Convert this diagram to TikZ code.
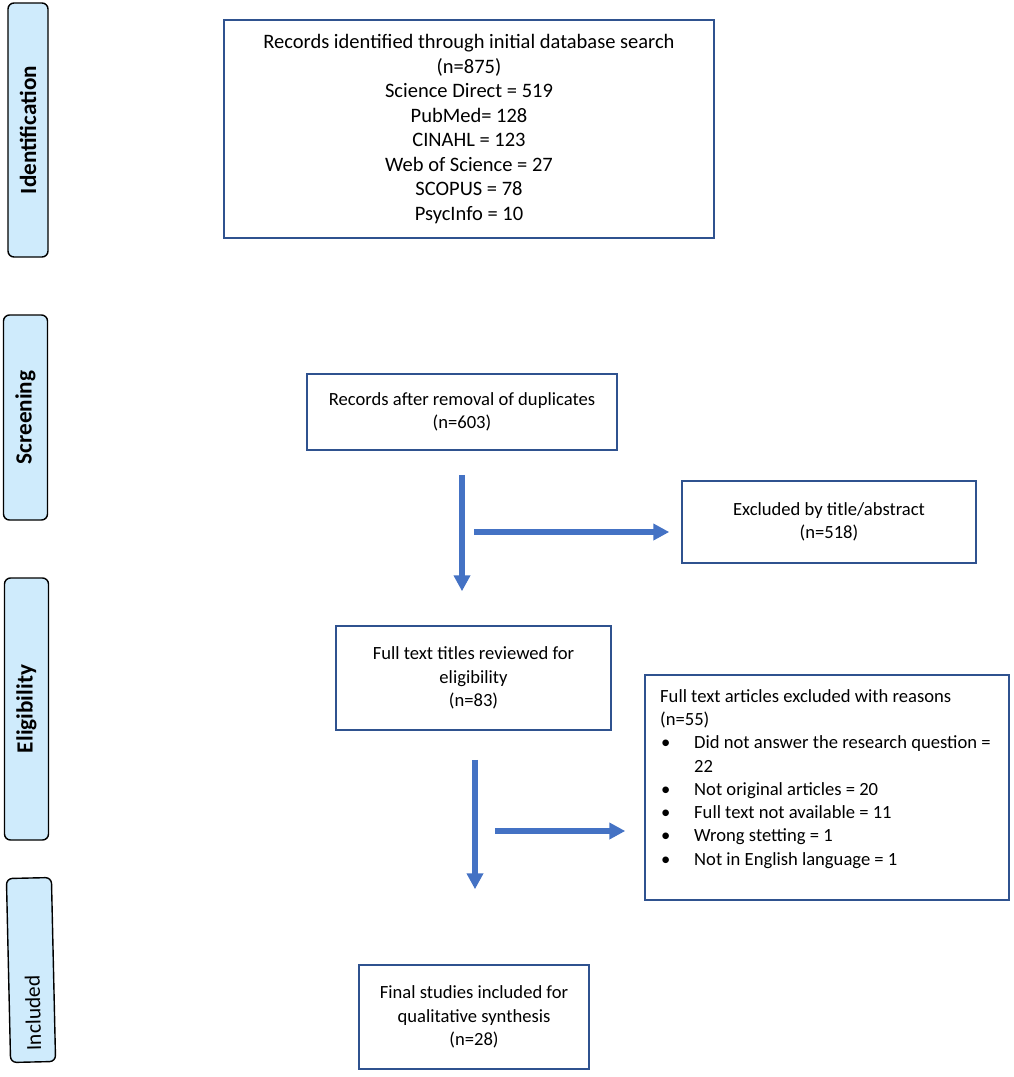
\documentclass[tikz,border=0pt]{standalone}
\usepackage{fontspec}
\setmainfont{Carlito}
\usetikzlibrary{arrows.meta,calc}
\definecolor{boxline}{RGB}{47,82,143}
\definecolor{arrowblue}{RGB}{68,114,196}
\definecolor{sidefill}{RGB}{207,235,252}
\begin{document}
\begin{tikzpicture}[x=1pt,y=-1pt,
  box/.style={draw=boxline, line width=1.5pt, fill=white, align=center, inner sep=0pt,
              font=\fontsize{18.6}{23.3}\selectfont},
  side/.style={draw=black, line width=1.4pt, fill=sidefill, rounded corners=6pt, inner sep=0pt},
  sidetext/.style={rotate=90, inner sep=0pt, font=\fontsize{23.2}{26}\selectfont\bfseries},
  bigarrow/.style={draw=arrowblue, line width=5.3pt, -{Triangle[width=16pt,length=16pt]}}]
\useasboundingbox (0,0) rectangle (1013,1077);

% side stage labels
\node[side, minimum width=40pt, minimum height=254pt] (sid) at (28,130) {};
\node[sidetext] (sidt) at (sid.center) {Identification};
\node[side, minimum width=44pt, minimum height=205pt] (ssc) at (25.5,417.5) {};
\node[sidetext] (ssct) at (ssc.center) {Screening};
\node[side, minimum width=44pt, minimum height=262pt] (sel) at (26.5,709) {};
\node[sidetext] (selt) at (sel.center) {Eligibility};
\node[side, minimum width=45pt, minimum height=184pt, rotate=1.3] (sin) at (31,970) {};
\node[rotate=91.3, inner sep=0pt, font=\fontsize{21.5}{24}\selectfont] (sint) at (33,1013) {Included};

% main boxes
\node[box, font=\fontsize{20.5}{24.5}\selectfont, minimum width=490pt, minimum height=218pt] (b1) at (469,129)
  {Records identified through initial database search\\(n=875)\\Science Direct = 519\\PubMed= 128\\CINAHL = 123\\Web of Science = 27\\SCOPUS = 78\\PsycInfo = 10};
\node[box, minimum width=310pt, minimum height=76pt] (b2) at (462,412)
  {Records after removal of duplicates\\(n=603)};
\node[box, minimum width=294pt, minimum height=82pt] (b3) at (829,522)
  {Excluded by title/abstract\\(n=518)};
\node[box, minimum width=275pt, minimum height=104pt] (b4) at (473.5,678)
  {Full text titles reviewed for\\eligibility\\(n=83)};
\node[box, minimum width=364pt, minimum height=225pt] (b5) at (827,787.5) {};
\node[anchor=north west, align=left, inner sep=0pt, font=\fontsize{18.6}{23.3}\selectfont] (b5t) at (660,689)
  {Full text articles excluded with reasons\\
   (n=55)\\
   \makebox[34pt][l]{\hspace{1pt}\textbullet}Did not answer the research question =\\
   \hspace*{34pt}22\\
   \makebox[34pt][l]{\hspace{1pt}\textbullet}Not original articles = 20\\
   \makebox[34pt][l]{\hspace{1pt}\textbullet}Full text not available = 11\\
   \makebox[34pt][l]{\hspace{1pt}\textbullet}Wrong stetting = 1\\
   \makebox[34pt][l]{\hspace{1pt}\textbullet}Not in English language = 1};
\node[box, minimum width=230pt, minimum height=104pt] (b6) at (474,1017)
  {Final studies included for\\qualitative synthesis\\(n=28)};

% arrows
\draw[bigarrow] ($(b2.south)+(0,24)$) -- ($(b2.south |- b4.north)+(0,-34)$);
\draw[bigarrow] ($(b3.west)+(-207,10)$) -- ($(b3.west)+(-12,10)$);
\draw[bigarrow] ($(b4.south)+(1.5,29)$) -- ($(b6.north)+(1,-75)$);
\draw[bigarrow] ($(b5.west)+(-149,43.5)$) -- ($(b5.west)+(-19,43.5)$);
\end{tikzpicture}
\end{document}
